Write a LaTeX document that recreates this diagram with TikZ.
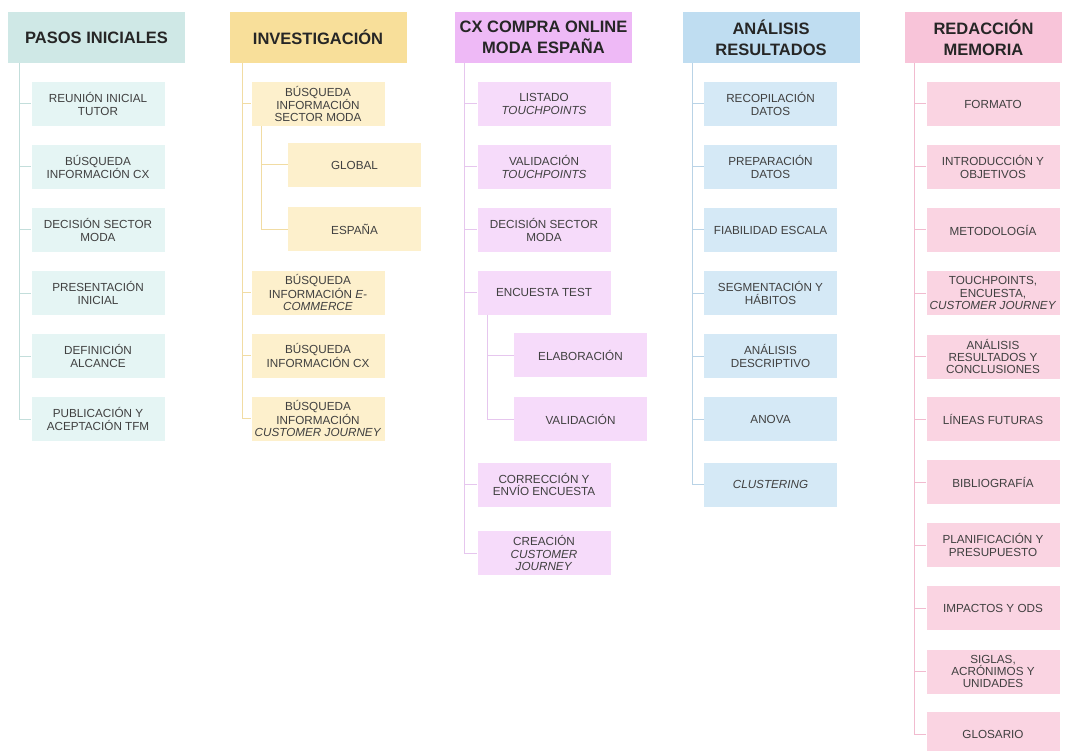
\documentclass[tikz,border=0pt]{standalone}
\usepackage{fontspec}
\setmainfont{Liberation Sans}
% column palettes: header, item, connector
\definecolor{hA}{HTML}{CFE8E6}\definecolor{bA}{HTML}{E5F5F4}\definecolor{lA}{HTML}{C3DEDB}
\definecolor{hB}{HTML}{F8DF9A}\definecolor{bB}{HTML}{FDF0CC}\definecolor{lB}{HTML}{F1DCA3}
\definecolor{hC}{HTML}{EEB9F6}\definecolor{bC}{HTML}{F6DBFA}\definecolor{lC}{HTML}{E6C6EE}
\definecolor{hD}{HTML}{BFDDF1}\definecolor{bD}{HTML}{D5E9F6}\definecolor{lD}{HTML}{B9D3E6}
\definecolor{hE}{HTML}{F8C4D9}\definecolor{bE}{HTML}{FAD4E2}\definecolor{lE}{HTML}{F1BBCF}
\begin{document}
\begin{tikzpicture}[x=1pt,y=-1pt,
  hdr/.style={fill=#1, minimum width=177pt, minimum height=51pt, inner sep=0pt,
    align=center, font=\fontsize{16.5}{21}\selectfont\bfseries, text=black!85},
  item/.style={fill=#1, minimum width=133pt, minimum height=44pt, inner sep=0pt,
    align=center, font=\fontsize{11.7}{12.2}\selectfont, text=black!75},
  link/.style={draw=#1, line width=1pt}]
\fill[white] (0,0) rectangle (1070,751);
\useasboundingbox (0,0) rectangle (1070,751);

% ---------- headers ----------
\node[hdr=hA] (h1) at (96.5,37.5) {PASOS INICIALES};
\node[hdr=hB] (h2) at (318,37.5) {INVESTIGACIÓN};
\node[hdr=hC] (h3) at (543.5,37.5) {CX COMPRA ONLINE\\MODA ESPAÑA};
\node[hdr=hD] (h4) at (771,37.5) {ANÁLISIS\\RESULTADOS};
\node[hdr=hE, minimum width=157pt] (h5) at (983.5,37.5) {REDACCIÓN\\MEMORIA};

% ---------- pasos iniciales ----------
\node[item=bA] (a1) at (98,104) {REUNIÓN INICIAL\\TUTOR};
\node[item=bA] (a2) at (98,167) {BÚSQUEDA\\INFORMACIÓN CX};
\node[item=bA] (a3) at (98,230) {DECISIÓN SECTOR\\MODA};
\node[item=bA] (a4) at (98,293) {PRESENTACIÓN\\INICIAL};
\node[item=bA] (a5) at (98,356) {DEFINICIÓN\\ALCANCE};
\node[item=bA] (a6) at (98,419) {PUBLICACIÓN Y\\ACEPTACIÓN TFM};
\foreach \n in {a1,a2,a3,a4,a5,a6}
  \draw[link=lA] ([xshift=12pt]h1.south west) |- (\n.west);

% ---------- investigación ----------
\node[item=bB] (b1) at (318,104) {BÚSQUEDA\\INFORMACIÓN\\SECTOR MODA};
\node[item=bB] (b1g) at (354.5,165) {GLOBAL};
\node[item=bB] (b1e) at (354.5,229.5) {ESPAÑA};
\node[item=bB] (b2) at (318,292.5) {BÚSQUEDA\\INFORMACIÓN \textit{E-}\\\textit{COMMERCE}};
\node[item=bB] (b3) at (318,355.5) {BÚSQUEDA\\INFORMACIÓN CX};
\node[item=bB] (b4) at (318,418.5) {BÚSQUEDA\\INFORMACIÓN\\\textit{CUSTOMER JOURNEY}};
\foreach \n in {b1,b2,b3,b4}
  \draw[link=lB] ([xshift=13pt]h2.south west) |- (\n.west);
\foreach \n in {b1g,b1e}
  \draw[link=lB] ([xshift=10pt]b1.south west) |- (\n.west);

% ---------- cx compra online ----------
\node[item=bC] (c1) at (544,104) {LISTADO\\\textit{TOUCHPOINTS}};
\node[item=bC] (c2) at (544,167) {VALIDACIÓN\\\textit{TOUCHPOINTS}};
\node[item=bC] (c3) at (544,230) {DECISIÓN SECTOR\\MODA};
\node[item=bC] (c4) at (544,292.5) {ENCUESTA TEST};
\node[item=bC] (c4a) at (580.5,355) {ELABORACIÓN};
\node[item=bC] (c4b) at (580.5,419) {VALIDACIÓN};
\node[item=bC] (c5) at (544,484.5) {CORRECCIÓN Y\\ENVÍO ENCUESTA};
\node[item=bC] (c6) at (544,553) {CREACIÓN\\\textit{CUSTOMER}\\\textit{JOURNEY}};
\foreach \n in {c1,c2,c3,c4,c5,c6}
  \draw[link=lC] ([xshift=10pt]h3.south west) |- (\n.west);
\foreach \n in {c4a,c4b}
  \draw[link=lC] ([xshift=10pt]c4.south west) |- (\n.west);

% ---------- análisis resultados ----------
\node[item=bD] (d1) at (770.5,104) {RECOPILACIÓN\\DATOS};
\node[item=bD] (d2) at (770.5,167) {PREPARACIÓN\\DATOS};
\node[item=bD] (d3) at (770.5,230) {FIABILIDAD ESCALA};
\node[item=bD] (d4) at (770.5,293) {SEGMENTACIÓN Y\\HÁBITOS};
\node[item=bD] (d5) at (770.5,356) {ANÁLISIS\\DESCRIPTIVO};
\node[item=bD] (d6) at (770.5,419) {ANOVA};
\node[item=bD] (d7) at (770.5,484.5) {\textit{CLUSTERING}};
\foreach \n in {d1,d2,d3,d4,d5,d6,d7}
  \draw[link=lD] ([xshift=10pt]h4.south west) |- (\n.west);

% ---------- redacción memoria ----------
\node[item=bE] (e1) at (993,104) {FORMATO};
\node[item=bE] (e2) at (993,167) {INTRODUCCIÓN Y\\OBJETIVOS};
\node[item=bE] (e3) at (993,230) {METODOLOGÍA};
\node[item=bE] (e4) at (993,293) {TOUCHPOINTS,\\ENCUESTA,\\\textit{CUSTOMER JOURNEY}};
\node[item=bE] (e5) at (993,356.5) {ANÁLISIS\\RESULTADOS Y\\CONCLUSIONES};
\node[item=bE] (e6) at (993,419) {LÍNEAS FUTURAS};
\node[item=bE] (e7) at (993,482) {BIBLIOGRAFÍA};
\node[item=bE] (e8) at (993,545) {PLANIFICACIÓN Y\\PRESUPUESTO};
\node[item=bE] (e9) at (993,608) {IMPACTOS Y ODS};
\node[item=bE] (e10) at (993,671.5) {SIGLAS,\\ACRÓNIMOS Y\\UNIDADES};
\node[item=bE] (e11) at (993,734) {GLOSARIO};
\foreach \n in {e1,e2,e3,e4,e5,e6,e7,e8,e9,e10,e11}
  \draw[link=lE] ([xshift=10pt]h5.south west) |- (\n.west);
\end{tikzpicture}
\end{document}
